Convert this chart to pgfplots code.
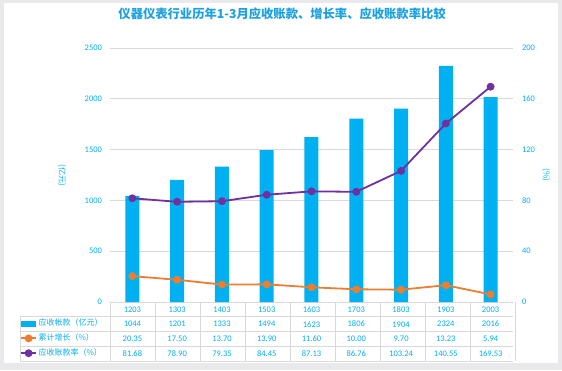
\documentclass[border=0pt]{standalone}
\usepackage{fontspec}
\usepackage{pgfplots}
\usepackage{pgfplotstable}
\pgfplotsset{compat=1.18}
\setmainfont{Carlito}
\newfontfamily\cjk{Noto Sans CJK SC}
\definecolor{cyantext}{HTML}{00B0F0}
\definecolor{titleblue}{HTML}{1BA1E2}
\definecolor{barblue}{HTML}{00B0F0}
\definecolor{lorange}{HTML}{ED7D31}
\definecolor{lpurple}{HTML}{7030A0}
\definecolor{gridgray}{HTML}{D9D9D9}
\definecolor{bggray}{HTML}{E9E9EC}

\pgfplotstableread{
x amount growth rate
0 1044 20.35 81.68
1 1201 17.50 78.90
2 1333 13.70 79.35
3 1494 13.90 84.45
4 1623 11.60 87.13
5 1806 10.00 86.76
6 1904 9.70 103.24
7 2324 13.23 140.55
8 2016 5.94 169.53
}\datatable

\begin{document}
\begin{tikzpicture}
\fill[bggray] (0pt,0pt) rectangle (562pt,370pt);
\fill[white] (4pt,7pt) rectangle (558pt,367pt);
% table grid
\begin{scope}[draw=gridgray, line width=0.8pt]
\draw (110pt,68pt) -- (513pt,68pt);
\foreach \yy in {54,39,24,9} {\draw (20pt,\yy pt) -- (513pt,\yy pt);}
\foreach \k in {0,...,9} {\draw ({110pt+45pt*\k},68pt) -- ({110pt+45pt*\k},9pt);}
\draw (20pt,54pt) -- (20pt,9pt);
\end{scope}

\begin{axis}[
  at={(110pt,68pt)}, anchor=south west, scale only axis,
  width=403pt, height=254pt,
  xmin=-0.5, xmax=8.5, ymin=0, ymax=2500,
  ytick={0,500,...,2500},
  axis y line*=left, axis x line*=bottom,
  axis line style={draw=none},
  major tick length=0pt,
  ymajorgrids, grid style={gridgray, line width=0.8pt},
  /pgf/number format/assume math mode=true,
  /pgf/number format/1000 sep={},
  yticklabel style={font=\fontsize{8.5}{10}\selectfont, text=cyantext, xshift=-4.5pt},
  ylabel={(亿元)},
  ylabel style={font=\cjk\fontsize{8}{9}\selectfont, text=cyantext, at={(axis description cs:-0.119,0.5)}, anchor=center, rotate=180},
  xtick={0,...,8},
  xticklabels={{1203\\1044\\20.35\\81.68},{1303\\1201\\17.50\\78.90},{1403\\1333\\13.70\\79.35},{1503\\1494\\13.90\\84.45},{1603\\1623\\11.60\\87.13},{1703\\1806\\10.00\\86.76},{1803\\1904\\9.70\\103.24},{1903\\2324\\13.23\\140.55},{2003\\2016\\5.94\\169.53}},
  xticklabel style={align=center, font=\fontsize{8.5}{14.8}\selectfont, text=cyantext, anchor=north, inner sep=0pt, yshift=-4.3pt},
  title={仪器仪表行业历年1-3月应收账款、增长率、应收账款率比较},
  title style={font=\cjk\bfseries\fontsize{12.3}{14}\selectfont, text=titleblue, at={(axis description cs:0.427,1.110)}, anchor=center},
]
\addplot[ybar, bar width=14pt, fill=barblue, draw=none] table[x=x, y=amount] {\datatable};
\end{axis}

\begin{axis}[
  at={(110pt,68pt)}, anchor=south west, scale only axis,
  width=403pt, height=254pt,
  xmin=-0.5, xmax=8.5, ymin=0, ymax=200,
  ytick={0,40,...,200},
  axis y line*=right, axis x line=none,
  axis line style={draw=none},
  major tick length=0pt,
  xtick=\empty,
  /pgf/number format/assume math mode=true,
  yticklabel style={font=\fontsize{8.5}{10}\selectfont, text=cyantext, xshift=5.5pt},
  ylabel={(\%)},
  ylabel style={font=\cjk\fontsize{8}{9}\selectfont, text=cyantext, at={(axis description cs:1.082,0.5)}, anchor=center, rotate=180},
  legend style={at={(axis description cs:-0.2233,-0.0551)}, anchor=north west, draw=none, fill=none, inner sep=0pt, row sep=0pt,
    font=\cjk\fontsize{8}{9}\selectfont, text=cyantext,
    nodes={text height=6.5pt, text depth=2pt, inner ysep=3.15pt, inner xsep=1.5pt}},
  legend cell align=left,
  legend image code/.code={\draw[mark repeat=2,mark phase=2,#1] plot coordinates {(0pt,0pt) (7.5pt,0pt) (15pt,0pt)};},
]
\addlegendimage{legend image code/.code={\fill[barblue] (0pt,-2.5pt) rectangle (14pt,2.5pt);}}
\addlegendentry{应收帐款（亿元）}
\addplot[lorange, line width=1.8pt, mark=*, mark size=3pt, mark options={fill=lorange, draw=lorange}]
  table[x=x, y=growth] {\datatable};
\addlegendentry{累计增长（\%）}
\addplot[lpurple, line width=1.8pt, mark=*, mark size=3pt, mark options={fill=lpurple, draw=lpurple}]
  table[x=x, y=rate] {\datatable};
\addlegendentry{应收账款率（\%）}
\end{axis}
\pgfresetboundingbox
\useasboundingbox (0pt,0pt) rectangle (562pt,370pt);
\end{tikzpicture}
\end{document}
